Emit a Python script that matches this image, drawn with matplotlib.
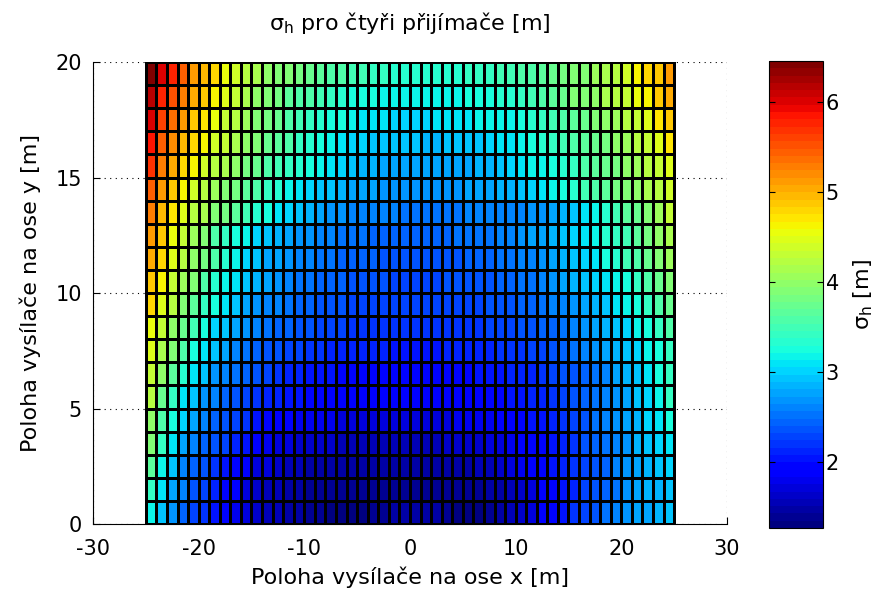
import numpy as np
import matplotlib
matplotlib.use("Agg")
import matplotlib.pyplot as plt

plt.rcParams['font.family'] = ['DejaVu Sans']
plt.rcParams['axes.unicode_minus'] = False
plt.rcParams['mathtext.default'] = 'regular'

# sigma_h values, one list per row (y = 0 .. 19), x = -25 .. 24
sigma_y0 = [3.20, 2.95, 2.65, 2.45, 2.30, 2.20, 2.05, 1.92, 1.80, 1.72, 1.65, 1.58, 1.52, 1.48, 1.45, 1.40, 1.37, 1.35, 1.30, 1.30, 1.35, 1.37, 1.40, 1.44, 1.47,
            1.48, 1.47, 1.45, 1.42, 1.35, 1.32, 1.35, 1.40, 1.45, 1.52, 1.62, 1.74, 1.86, 1.97, 2.08, 2.20, 2.30, 2.40, 2.50, 2.58, 2.66, 2.74, 2.80, 2.86, 2.90]
sigma_y1 = [3.42, 3.08, 2.78, 2.58, 2.40, 2.25, 2.10, 1.95, 1.84, 1.74, 1.66, 1.59, 1.53, 1.48, 1.44, 1.41, 1.39, 1.38, 1.37, 1.37, 1.37, 1.38, 1.39, 1.40, 1.41,
            1.41, 1.41, 1.41, 1.41, 1.40, 1.41, 1.42, 1.45, 1.50, 1.57, 1.66, 1.75, 1.85, 1.95, 2.06, 2.16, 2.27, 2.37, 2.47, 2.56, 2.65, 2.74, 2.82, 2.89, 2.96]
sigma_y2 = [3.65, 3.20, 2.90, 2.62, 2.48, 2.35, 2.24, 2.06, 1.94, 1.84, 1.75, 1.68, 1.62, 1.57, 1.53, 1.50, 1.48, 1.47, 1.46, 1.46, 1.46, 1.46, 1.46, 1.46, 1.46,
            1.46, 1.46, 1.47, 1.48, 1.49, 1.51, 1.54, 1.58, 1.63, 1.69, 1.76, 1.84, 1.92, 2.01, 2.10, 2.19, 2.28, 2.38, 2.48, 2.58, 2.68, 2.78, 2.87, 2.95, 3.03]
sigma_y3 = [3.87, 3.40, 3.10, 2.80, 2.60, 2.48, 2.38, 2.25, 2.10, 2.00, 1.87, 1.80, 1.74, 1.69, 1.66, 1.63, 1.61, 1.60, 1.59, 1.59, 1.58, 1.58, 1.58, 1.58, 1.58,
            1.58, 1.58, 1.59, 1.60, 1.61, 1.63, 1.66, 1.70, 1.74, 1.79, 1.85, 1.92, 1.99, 2.07, 2.15, 2.24, 2.33, 2.42, 2.52, 2.62, 2.72, 2.82, 2.92, 3.01, 3.10]
sigma_y4 = [4.00, 3.60, 3.25, 3.00, 2.77, 2.60, 2.48, 2.38, 2.30, 2.20, 2.08, 1.98, 1.91, 1.86, 1.82, 1.79, 1.77, 1.76, 1.75, 1.75, 1.74, 1.74, 1.74, 1.74, 1.74,
            1.74, 1.74, 1.75, 1.75, 1.76, 1.78, 1.80, 1.83, 1.87, 1.91, 1.96, 2.02, 2.08, 2.15, 2.23, 2.31, 2.40, 2.49, 2.58, 2.68, 2.78, 2.88, 2.98, 3.10, 3.22]
sigma_y5 = [4.20, 3.75, 3.45, 3.12, 2.90, 2.72, 2.58, 2.47, 2.38, 2.30, 2.22, 2.15, 2.09, 2.04, 2.00, 1.96, 1.93, 1.91, 1.89, 1.88, 1.87, 1.86, 1.86, 1.85, 1.85,
            1.85, 1.85, 1.86, 1.86, 1.87, 1.89, 1.91, 1.94, 1.97, 2.01, 2.05, 2.10, 2.16, 2.22, 2.29, 2.37, 2.45, 2.54, 2.63, 2.68, 2.80, 2.90, 3.03, 3.20, 3.40]
sigma_y6 = [4.35, 4.00, 3.67, 3.35, 3.10, 2.90, 2.72, 2.60, 2.50, 2.42, 2.33, 2.26, 2.20, 2.14, 2.09, 2.05, 2.02, 2.00, 1.99, 1.98, 1.97, 1.97, 1.96, 1.96, 1.96,
            1.96, 1.96, 1.97, 1.97, 1.98, 1.99, 2.01, 2.03, 2.06, 2.09, 2.12, 2.16, 2.21, 2.27, 2.33, 2.40, 2.47, 2.55, 2.64, 2.73, 2.83, 2.94, 3.06, 3.22, 3.45]
sigma_y7 = [4.45, 4.13, 3.87, 3.55, 3.28, 3.06, 2.90, 2.75, 2.64, 2.54, 2.47, 2.40, 2.34, 2.29, 2.25, 2.21, 2.18, 2.16, 2.14, 2.12, 2.11, 2.10, 2.09, 2.08, 2.08,
            2.08, 2.08, 2.08, 2.09, 2.10, 2.11, 2.13, 2.15, 2.18, 2.21, 2.24, 2.28, 2.32, 2.37, 2.43, 2.50, 2.57, 2.65, 2.74, 2.83, 2.93, 3.04, 3.14, 3.24, 3.45]
sigma_y8 = [4.58, 4.33, 4.00, 3.74, 3.48, 3.22, 3.03, 2.90, 2.78, 2.68, 2.60, 2.53, 2.47, 2.42, 2.37, 2.33, 2.30, 2.27, 2.25, 2.23, 2.21, 2.20, 2.19, 2.18, 2.18,
            2.18, 2.18, 2.18, 2.19, 2.20, 2.21, 2.23, 2.25, 2.28, 2.31, 2.34, 2.38, 2.42, 2.47, 2.53, 2.59, 2.67, 2.75, 2.84, 2.93, 3.03, 3.14, 3.26, 3.42, 3.60]
sigma_y9 = [4.78, 4.48, 4.20, 3.93, 3.67, 3.42, 3.22, 3.06, 2.92, 2.81, 2.72, 2.64, 2.58, 2.52, 2.47, 2.43, 2.39, 2.36, 2.34, 2.32, 2.30, 2.29, 2.28, 2.27, 2.27,
            2.27, 2.27, 2.27, 2.28, 2.29, 2.30, 2.32, 2.34, 2.37, 2.40, 2.44, 2.48, 2.52, 2.57, 2.63, 2.70, 2.78, 2.87, 2.96, 3.06, 3.14, 3.22, 3.42, 3.55, 3.74]
sigma_y10 = [4.90, 4.62, 4.33, 4.07, 3.87, 3.60, 3.35, 3.20, 3.06, 2.93, 2.83, 2.73, 2.66, 2.60, 2.55, 2.50, 2.47, 2.44, 2.41, 2.38, 2.36, 2.34, 2.33, 2.32, 2.32,
             2.32, 2.32, 2.32, 2.33, 2.34, 2.35, 2.37, 2.40, 2.43, 2.46, 2.50, 2.55, 2.61, 2.67, 2.74, 2.82, 2.90, 3.00, 3.10, 3.20, 3.28, 3.42, 3.60, 3.74, 3.92]
sigma_y11 = [5.05, 4.78, 4.45, 4.20, 4.00, 3.80, 3.55, 3.30, 3.18, 3.03, 2.90, 2.80, 2.73, 2.66, 2.60, 2.57, 2.53, 2.50, 2.48, 2.46, 2.44, 2.42, 2.40, 2.39, 2.38,
             2.38, 2.38, 2.38, 2.39, 2.40, 2.41, 2.43, 2.46, 2.49, 2.53, 2.58, 2.64, 2.70, 2.77, 2.85, 2.93, 3.02, 3.12, 3.22, 3.35, 3.48, 3.60, 3.74, 3.87, 4.05]
sigma_y12 = [5.15, 4.85, 4.55, 4.30, 4.10, 3.90, 3.62, 3.42, 3.25, 3.18, 3.05, 2.95, 2.86, 2.78, 2.71, 2.66, 2.61, 2.58, 2.55, 2.52, 2.50, 2.48, 2.47, 2.46, 2.45,
             2.45, 2.45, 2.46, 2.47, 2.49, 2.51, 2.53, 2.56, 2.60, 2.64, 2.68, 2.73, 2.79, 2.86, 2.94, 3.02, 3.10, 3.20, 3.30, 3.40, 3.52, 3.65, 3.80, 3.95, 4.18]
sigma_y13 = [5.25, 4.97, 4.70, 4.50, 4.26, 4.13, 3.93, 3.80, 3.67, 3.48, 3.35, 3.22, 3.10, 3.00, 2.90, 2.83, 2.77, 2.70, 2.66, 2.64, 2.61, 2.60, 2.58, 2.57, 2.56,
             2.56, 2.56, 2.56, 2.56, 2.56, 2.57, 2.57, 2.58, 2.59, 2.59, 2.60, 2.65, 2.72, 2.80, 2.88, 2.97, 3.08, 3.20, 3.35, 3.50, 3.63, 3.76, 3.90, 4.05, 4.30]
sigma_y14 = [5.42, 5.10, 4.90, 4.62, 4.40, 4.20, 4.07, 3.93, 3.80, 3.67, 3.55, 3.42, 3.30, 3.20, 3.10, 3.03, 2.96, 2.90, 2.83, 2.80, 2.77, 2.74, 2.72, 2.70, 2.70,
             2.70, 2.70, 2.70, 2.70, 2.71, 2.73, 2.76, 2.79, 2.83, 2.88, 2.94, 3.00, 3.07, 3.15, 3.25, 3.35, 3.48, 3.60, 3.67, 3.80, 3.87, 4.00, 4.13, 4.26, 4.40]
sigma_y15 = [5.70, 5.28, 5.02, 4.80, 4.60, 4.43, 4.27, 4.12, 3.98, 3.86, 3.74, 3.62, 3.52, 3.42, 3.32, 3.23, 3.14, 3.06, 2.99, 2.93, 2.88, 2.84, 2.81, 2.79, 2.78,
             2.77, 2.76, 2.76, 2.77, 2.78, 2.80, 2.83, 2.87, 2.91, 3.01, 3.08, 3.14, 3.20, 3.28, 3.36, 3.45, 3.55, 3.65, 3.76, 3.86, 3.97, 4.08, 4.19, 4.32, 4.48]
sigma_y16 = [5.85, 5.42, 5.18, 4.97, 4.78, 4.60, 4.43, 4.28, 4.13, 4.00, 3.88, 3.76, 3.65, 3.55, 3.45, 3.36, 3.28, 3.20, 3.12, 3.05, 3.00, 2.96, 2.93, 2.91, 2.90,
             2.90, 2.89, 2.89, 2.90, 2.92, 2.94, 2.97, 3.01, 3.08, 3.13, 3.19, 3.25, 3.33, 3.42, 3.50, 3.60, 3.68, 3.77, 3.86, 3.95, 4.07, 4.20, 4.33, 4.50, 4.70]
sigma_y17 = [6.05, 5.60, 5.35, 5.10, 4.90, 4.70, 4.52, 4.33, 4.20, 4.07, 3.93, 3.80, 3.74, 3.60, 3.48, 3.42, 3.35, 3.28, 3.22, 3.15, 3.12, 3.09, 3.06, 3.05, 3.04,
             3.05, 3.05, 3.06, 3.08, 3.10, 3.12, 3.14, 3.17, 3.19, 3.21, 3.24, 3.30, 3.38, 3.47, 3.57, 3.67, 3.77, 3.87, 3.97, 4.10, 4.22, 4.35, 4.50, 4.68, 4.88]
sigma_y18 = [6.20, 5.80, 5.55, 5.30, 5.05, 4.85, 4.65, 4.45, 4.30, 4.15, 4.00, 3.93, 3.80, 3.67, 3.60, 3.55, 3.48, 3.40, 3.35, 3.28, 3.22, 3.22, 3.18, 3.17, 3.16,
             3.18, 3.18, 3.18, 3.18, 3.20, 3.22, 3.25, 3.28, 3.32, 3.37, 3.43, 3.50, 3.58, 3.68, 3.78, 3.87, 3.93, 4.00, 4.13, 4.20, 4.35, 4.52, 4.65, 4.85, 5.05]
sigma_y19 = [6.40, 6.00, 5.80, 5.45, 5.15, 4.95, 4.78, 4.55, 4.40, 4.26, 4.13, 4.02, 3.93, 3.87, 3.80, 3.74, 3.67, 3.61, 3.55, 3.50, 3.47, 3.43, 3.40, 3.37, 3.35,
             3.35, 3.35, 3.35, 3.35, 3.35, 3.38, 3.40, 3.43, 3.46, 3.50, 3.55, 3.60, 3.65, 3.72, 3.80, 3.87, 3.93, 4.07, 4.13, 4.26, 4.40, 4.60, 4.78, 4.90, 5.15]

x_ticks = [-30, -20, -10, 0, 10, 20, 30]
y_ticks = [0, 5, 10, 15, 20]
cbar_ticks = [2, 3, 4, 5, 6]

Z = np.array([sigma_y0, sigma_y1, sigma_y2, sigma_y3, sigma_y4, sigma_y5, sigma_y6,
              sigma_y7, sigma_y8, sigma_y9, sigma_y10, sigma_y11, sigma_y12, sigma_y13,
              sigma_y14, sigma_y15, sigma_y16, sigma_y17, sigma_y18, sigma_y19])
x_edges = np.arange(-25, 26)
y_edges = np.arange(0, 21)

cmap = plt.get_cmap('jet', 64)

fig = plt.figure(figsize=(8.88, 5.98), dpi=100)
ax = fig.add_axes([0.1047, 0.1237, 0.714, 0.7726])
mesh = ax.pcolormesh(x_edges, y_edges, Z, cmap=cmap, vmin=1.27, vmax=6.46,
                     edgecolors='k', linewidth=0.75)

ax.set_xlim(-30, 30)
ax.set_ylim(0, 20)
ax.set_xticks(x_ticks)
ax.set_yticks(y_ticks)
ax.grid(True, color='k', linestyle=(0, (1, 4)), linewidth=0.8)
ax.set_axisbelow(True)
ax.spines['top'].set_visible(False)
ax.spines['right'].set_visible(False)
ax.tick_params(direction='in', length=5, labelsize=15)
ax.tick_params(axis='x', pad=11)
ax.tick_params(axis='y', pad=8)

ax.set_title('σ$_{h}$ pro čtyři přijímače [m]', fontsize=16, pad=23)
ax.set_xlabel('Poloha vysílače na ose x [m]', fontsize=16, labelpad=5)
ax.set_ylabel('Poloha vysílače na ose y [m]', fontsize=16, labelpad=10)

cax = fig.add_axes([0.866, 0.117, 0.0608, 0.781])
cb = fig.colorbar(mesh, cax=cax)
cb.set_ticks(cbar_ticks)
cax.tick_params(direction='in', left=True, right=True, length=4, labelsize=15, pad=2)
cb.set_label('σ$_{h}$ [m]', fontsize=16, labelpad=9)

fig.savefig('out.png', dpi=100)
